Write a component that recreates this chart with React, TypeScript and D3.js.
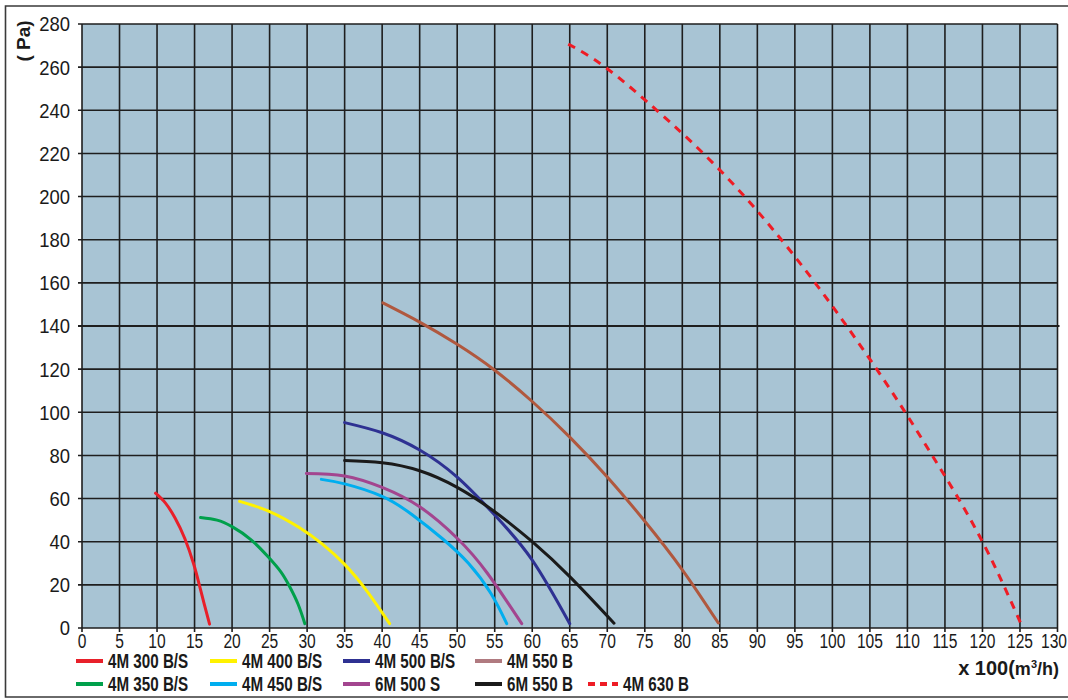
import React from "react";
import * as d3 from "d3";

const xTicks = d3.range(0, 131, 5);
const yTicks = d3.range(0, 281, 20);

const s300: [number, number][] = [[9.8, 62.5], [11.1, 58], [12.4, 51], [13.7, 41.5], [14.85, 30], [15.6, 20.5], [16.3, 11], [17, 1.8]];
const s350: [number, number][] = [[15.8, 51.2], [18, 50], [20, 47], [22.5, 41], [24.8, 33], [26.5, 26], [27.7, 19], [28.8, 11], [29.7, 2]];
const s400: [number, number][] = [[21, 58.7], [25, 54], [29, 46.5], [32, 39], [35, 29.5], [38, 17], [41, 2]];
const s450: [number, number][] = [[31.9, 68.9], [35, 66.8], [40, 61], [44, 52.5], [48, 41.5], [51.5, 30], [54.5, 16], [56.6, 2]];
const s500S: [number, number][] = [[29.9, 71.6], [35, 70.5], [40, 65.2], [45, 56.2], [50, 41.6], [54, 25.5], [58.6, 2]];
const s500: [number, number][] = [[35, 95.2], [40, 90.5], [45, 82.5], [50, 69.9], [55, 52.4], [60, 31.5], [65, 2]];
const s550_6: [number, number][] = [[35, 77.6], [40, 76.6], [45, 72.9], [50, 65.2], [55, 53.9], [60, 40], [65, 23.8], [70.9, 2.2]];
const s550: [number, number][] = [[40.1, 150.7], [45, 141.8], [50, 131.5], [55, 119.5], [60, 105], [65, 88.5], [70, 70], [75, 49.5], [80, 27], [84.8, 2.3]];
const s630: [number, number][] = [[64.8, 270.7], [69.8, 259.8], [76.6, 240], [82.8, 220], [88.3, 200], [93.2, 180], [97.7, 160], [101.9, 140], [105.9, 120], [109.7, 100], [113.3, 80], [116.8, 60], [120, 40], [122.8, 20], [125.3, 0.6]];

const seriesNames = ["4M 300 B/S", "4M 350 B/S", "4M 400 B/S", "4M 450 B/S", "4M 500 B/S", "6M 500 S", "4M 550 B", "6M 550 B", "4M 630 B"];
const seriesData = [s300, s350, s400, s450, s500, s500S, s550, s550_6, s630];
const seriesColors = ["#e8202a", "#00a04b", "#fff200", "#00aeef", "#2e3192", "#a3458f", "#b0583e", "#1a1a1a", "#ee1c25"];
const legendColors = ["#e8202a", "#00a04b", "#fff200", "#00aeef", "#2e3192", "#a3458f", "#b07a80", "#1a1a1a", "#ee1c25"];
const seriesDashed = [false, false, false, false, false, false, false, false, true];
// legend slot: [column, row]
const legendSlots: [number, number][] = [[0, 0], [0, 1], [1, 0], [1, 1], [2, 0], [2, 1], [3, 0], [3, 1], [4, 1]];
const legendColX = [76, 210, 343, 475, 588];
const legendRowY = [668, 691];

const FONT = "'Liberation Sans', Arial, sans-serif";

export default function App() {
  const W = 1068, H = 700;
  const x = d3.scaleLinear().domain([0, 130]).range([82, 1057.5]);
  const y = d3.scaleLinear().domain([0, 280]).range([628, 24]);
  const line = d3.line<[number, number]>().x(d => x(d[0])).y(d => y(d[1])).curve(d3.curveNatural);

  return (
    <svg width={W} height={H} style={{ position: "absolute", left: 0, top: 0, background: "#fff" }}>
      {/* outer frame */}
      <path d={`M1070,6 H5.5 V697 H1070`} fill="none" stroke="#3a3a3a" strokeWidth={1.6} />
      {/* plot bg */}
      <rect x={x(0)} y={y(280)} width={x(130) - x(0)} height={y(0) - y(280)} fill="#a8c4d4" />
      {/* grid */}
      {xTicks.map(t => (
        <line key={"gx" + t} x1={x(t)} x2={x(t)} y1={y(280)} y2={y(0) + 4} stroke="#1e1e1e" strokeWidth={1.6} />
      ))}
      {yTicks.map(t => (
        <line key={"gy" + t} x1={x(0) - 4} x2={t === 140 ? x(130) + 2 : x(130)} y1={y(t)} y2={y(t)} stroke="#1e1e1e" strokeWidth={t === 140 ? 2.2 : 1.6} />
      ))}
      {/* tick labels */}
      {yTicks.map(t => (
        <text key={"ty" + t} transform={`translate(70,${y(t)}) scale(0.9,1)`} dy="0.36em" textAnchor="end" fontFamily={FONT} fontSize={20.5} fill="#1a1a1a">{t}</text>
      ))}
      {xTicks.map(t => (
        <text key={"tx" + t} transform={`translate(${Math.min(x(t), 1054)},647.5) scale(0.8,1)`} textAnchor="middle" fontFamily={FONT} fontSize={19.5} fill="#1a1a1a">{t}</text>
      ))}
      {/* axis titles */}
      <text transform="translate(30,41) rotate(-90)" textAnchor="middle" fontFamily={FONT} fontWeight="bold" fontSize={19} fill="#1a1a1a">( Pa)</text>
      <text x={1059} y={675} textAnchor="end" fontFamily={FONT} fontWeight="bold" fontSize={20} fill="#1a1a1a">x 100(<tspan fontSize={18}>m</tspan><tspan fontSize={11} dy={-7}>3</tspan><tspan fontSize={18} dy={7}>/h)</tspan></text>
      {/* curves */}
      {seriesData.map((d, i) => (
        <path key={"c" + i} d={line(d) || ""} fill="none" stroke={seriesColors[i]} strokeWidth={3} strokeLinecap={seriesDashed[i] ? "butt" : "round"} strokeDasharray={seriesDashed[i] ? "8 7" : undefined} />
      ))}
      {/* legend */}
      {seriesNames.map((n, i) => {
        const [c, r] = legendSlots[i];
        const lx = legendColX[c];
        const ly = legendRowY[r];
        return (
          <g key={"l" + i}>
            <line x1={lx} x2={lx + (seriesDashed[i] ? 30 : 27)} y1={ly - 7} y2={ly - 7} stroke={legendColors[i]} strokeWidth={4} strokeDasharray={seriesDashed[i] ? "7 5" : undefined} />
            <text transform={`translate(${lx + (seriesDashed[i] ? 35 : 32)},${ly}) scale(0.76,1)`} fontFamily={FONT} fontWeight="bold" fontSize={20} fill="#1a1a1a">{n}</text>
          </g>
        );
      })}
    </svg>
  );
}
